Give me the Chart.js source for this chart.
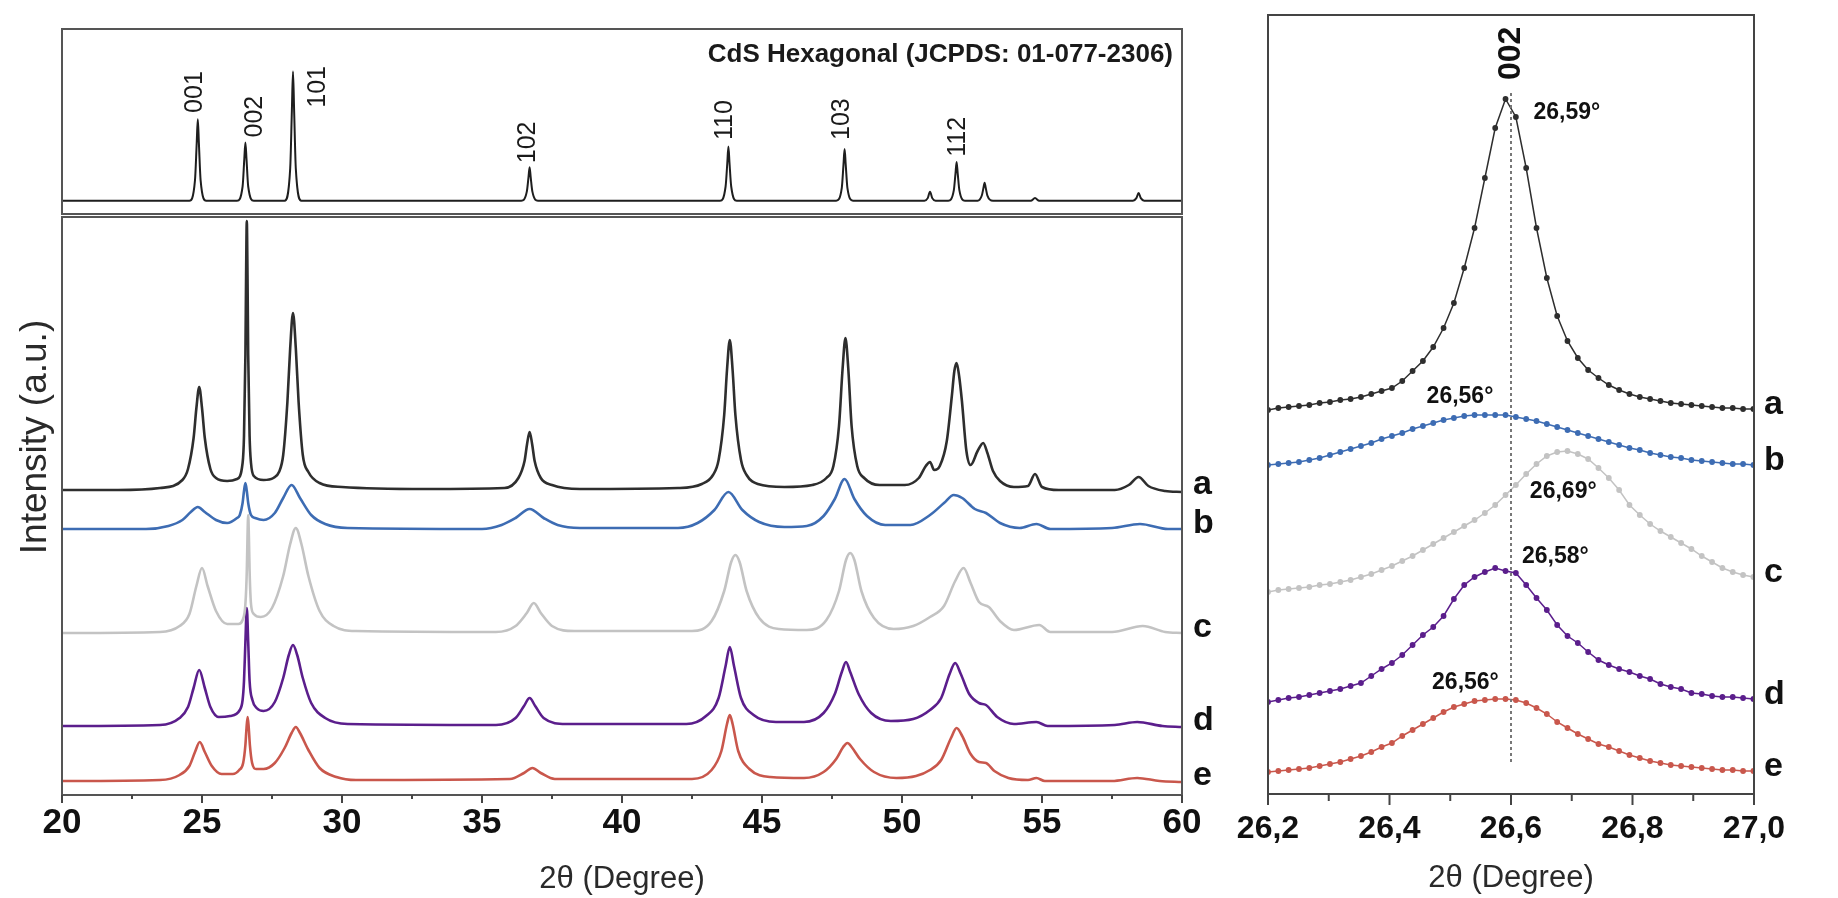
<!DOCTYPE html>
<html>
<head>
<meta charset="utf-8">
<script src="https://cdn.jsdelivr.net/npm/chart.js@4.4.1/dist/chart.umd.min.js"></script>
<style>
  body { margin: 0; background: #fff; }
  #wrap { position: relative; width: 1838px; height: 898px; background: #fff; }
  #wrap canvas { position: absolute; left: 0; top: 0; }
</style>
</head>
<body>
<div id="wrap">
  <canvas id="refChart" width="1838" height="898"></canvas>
  <canvas id="mainChart" width="1838" height="898"></canvas>
  <canvas id="zoomChart" width="1838" height="898"></canvas>
</div>
<script>
// ---- data ----

// reference pattern CdS hexagonal, JCPDS 01-077-2306 (101 = 100)
const refPattern = [
  [20, 0], [24.55, 0], [24.75, 16], [24.81, 44], [24.85, 63], [24.89, 44], [24.95, 16], [25.15, 0],
  [26.25, 0], [26.45, 11], [26.51, 32], [26.55, 45], [26.59, 32], [26.65, 11], [26.85, 0],
  [27.95, 0], [28.15, 25], [28.21, 70], [28.25, 100], [28.29, 70], [28.35, 25], [28.55, 0],
  [36.4, 0], [36.6, 7], [36.66, 18], [36.7, 26], [36.74, 18], [36.8, 7], [37.0, 0],
  [43.5, 0], [43.7, 11], [43.76, 29], [43.8, 42], [43.84, 29], [43.9, 11], [44.1, 0],
  [47.65, 0], [47.85, 10], [47.91, 28], [47.95, 40], [47.99, 28], [48.05, 10], [48.25, 0],
  [50.8, 0], [50.92, 2], [51.0, 7], [51.08, 2], [51.2, 0],
  [51.65, 0], [51.85, 8], [51.91, 21], [51.95, 30], [51.99, 21], [52.05, 8], [52.25, 0],
  [52.7, 0], [52.85, 4], [52.91, 10], [52.95, 14], [52.99, 10], [53.05, 4], [53.25, 0],
  [54.6, 0], [54.75, 2], [54.9, 0],
  [58.25, 0], [58.37, 2], [58.45, 6], [58.53, 2], [58.65, 0], [60, 0]
];
const hklNames = ['001', '002', '101', '102', '110', '103', '112'];
const hklX = [24.75, 26.9, 29.15, 36.65, 43.7, 47.86, 52.0];
const hklY = [68, 49, 72, 29, 47, 47, 34];

// stacked samples (arbitrary units, offsets included)
const sampleNames = ['a', 'b', 'c', 'd', 'e'];
const curveA = [
  [20, 306], [22, 306], [23.5, 308], [24.3, 316], [24.5, 327], [24.7, 358], [24.8, 388], [24.9, 409], [25.0, 388],
  [25.1, 358], [25.3, 327], [25.5, 318], [25.9, 315], [26.25, 317], [26.45, 333], [26.5, 360], [26.55, 441],
  [26.575, 521], [26.6, 575], [26.625, 521], [26.65, 441], [26.7, 360], [26.75, 333], [26.85, 320], [27.2, 316],
  [27.55, 318], [27.75, 324], [27.9, 341], [28.05, 394], [28.15, 448], [28.25, 483], [28.35, 448], [28.45, 394],
  [28.6, 341], [28.8, 324], [29.2, 313], [30, 309], [33, 307], [35.8, 308], [36.3, 318], [36.52, 335], [36.61, 352],
  [36.7, 364], [36.79, 352], [36.88, 335], [37.1, 318], [37.5, 311], [38.5, 307], [42, 308], [42.85, 312],
  [43.25, 321], [43.45, 336], [43.65, 381], [43.75, 426], [43.85, 456], [43.95, 426], [44.05, 381], [44.25, 336],
  [44.45, 321], [44.85, 312], [45.8, 309], [46.8, 311], [47.3, 318], [47.55, 330], [47.75, 370], [47.88, 428],
  [47.98, 458], [48.08, 428], [48.2, 370], [48.4, 330], [48.65, 318], [49.2, 311], [50.1, 311], [50.6, 318],
  [50.85, 330], [51.0, 334], [51.15, 326], [51.35, 330], [51.6, 355], [51.78, 400], [51.87, 425], [51.95, 433],
  [52.04, 420], [52.14, 395], [52.3, 345], [52.45, 331], [52.7, 345], [52.9, 353], [53.05, 343], [53.25, 325],
  [53.5, 315], [54.0, 309], [54.5, 310], [54.75, 322], [55.0, 309], [55.6, 306], [57.6, 306], [58.1, 311],
  [58.45, 319], [58.8, 310], [59.4, 305], [60, 304]
];
const curveB = [
  [20, 267], [23, 267], [23.8, 270], [24.3, 276], [24.6, 284], [24.85, 289], [25.1, 284], [25.5, 276], [25.9, 273],
  [26.25, 278], [26.35, 281], [26.45, 293], [26.5, 305], [26.55, 313], [26.6, 305], [26.65, 293], [26.75, 281],
  [26.9, 278], [27.2, 276], [27.6, 283], [27.9, 298], [28.2, 311], [28.5, 298], [28.9, 281], [29.4, 272],
  [30.2, 268], [35, 267], [35.7, 271], [36.2, 278], [36.7, 287], [37.2, 278], [37.7, 271], [38.5, 268], [42, 268],
  [42.7, 273], [43.3, 286], [43.8, 304], [44.3, 286], [44.9, 274], [45.8, 269], [46.6, 270], [47.2, 280],
  [47.6, 297], [47.95, 317], [48.3, 297], [48.75, 280], [49.4, 271], [50.3, 271], [51.0, 281], [51.5, 293],
  [51.85, 301], [52.15, 298], [52.6, 287], [53.0, 283], [53.5, 273], [54.2, 268], [54.8, 272], [55.3, 267],
  [57.5, 268], [58.5, 272], [59.5, 267], [60, 267]
];
const curveC = [
  [20, 163], [23.5, 164], [24.2, 170], [24.55, 182], [24.8, 210], [25.0, 228], [25.2, 210], [25.5, 185], [25.9, 172],
  [26.3, 172], [26.45, 176], [26.55, 192], [26.6, 225], [26.625, 259], [26.65, 281], [26.675, 259], [26.7, 225],
  [26.75, 192], [26.85, 182], [27.1, 179], [27.5, 188], [27.9, 220], [28.15, 252], [28.35, 268], [28.55, 252],
  [28.8, 220], [29.2, 185], [29.7, 170], [30.5, 165], [35.5, 164], [36.2, 170], [36.6, 183], [36.85, 193],
  [37.1, 183], [37.5, 170], [38.3, 165], [42.5, 165], [43.2, 175], [43.65, 205], [43.9, 234], [44.05, 241],
  [44.2, 234], [44.45, 205], [44.9, 178], [45.6, 167], [46.6, 166], [47.3, 176], [47.75, 205], [48.0, 236],
  [48.15, 243], [48.3, 236], [48.55, 205], [49.0, 178], [49.7, 167], [50.4, 170], [51.0, 179], [51.5, 190],
  [51.9, 215], [52.2, 228], [52.45, 213], [52.75, 194], [53.1, 189], [53.5, 175], [54.0, 166], [54.9, 171],
  [55.3, 164], [57.5, 164], [58.6, 170], [59.4, 164], [60, 163]
];
const curveD = [
  [20, 70], [23.5, 71], [24.2, 78], [24.5, 89], [24.7, 108], [24.9, 126], [25.1, 108], [25.3, 89], [25.6, 79],
  [26.0, 80], [26.35, 86], [26.45, 96], [26.5, 115], [26.55, 154], [26.6, 188], [26.65, 154], [26.7, 115],
  [26.8, 96], [26.95, 88], [27.2, 85], [27.6, 94], [27.9, 118], [28.1, 141], [28.25, 151], [28.4, 141], [28.6, 118],
  [28.9, 93], [29.4, 78], [30.2, 72], [35.5, 71], [36.2, 78], [36.5, 90], [36.7, 98], [36.9, 90], [37.2, 78],
  [38, 72], [42.3, 72], [43.0, 80], [43.45, 98], [43.7, 130], [43.85, 149], [44.0, 130], [44.25, 98], [44.7, 81],
  [45.5, 74], [46.5, 74], [47.2, 83], [47.6, 102], [47.85, 124], [48.0, 134], [48.15, 124], [48.45, 102],
  [48.9, 83], [49.6, 75], [50.4, 77], [51.0, 86], [51.4, 98], [51.7, 122], [51.9, 133], [52.1, 122], [52.4, 102],
  [52.75, 93], [53.0, 91], [53.4, 79], [54.0, 72], [54.8, 74], [55.2, 70], [57.6, 71], [58.4, 74], [59.3, 70],
  [60, 69]
];
const curveE = [
  [20, 15], [23.5, 16], [24.2, 21], [24.55, 30], [24.75, 44], [24.92, 54], [25.1, 44], [25.35, 30], [25.7, 22],
  [26.1, 22], [26.33, 26], [26.47, 33], [26.55, 51], [26.59, 68], [26.63, 79], [26.67, 68], [26.71, 51],
  [26.79, 33], [26.93, 27], [27.2, 27], [27.6, 33], [27.95, 48], [28.2, 63], [28.35, 69], [28.5, 63], [28.8, 46],
  [29.2, 28], [29.8, 19], [30.5, 16], [36.0, 17], [36.5, 23], [36.8, 28], [37.1, 23], [37.6, 17], [42.5, 17],
  [43.2, 26], [43.55, 45], [43.75, 72], [43.85, 81], [43.95, 72], [44.15, 45], [44.55, 27], [45.3, 19], [46.5, 18],
  [47.2, 24], [47.65, 37], [47.9, 49], [48.05, 53], [48.2, 49], [48.5, 37], [49.0, 24], [49.8, 18], [50.5, 20],
  [51.0, 26], [51.4, 36], [51.75, 58], [51.95, 68], [52.15, 60], [52.45, 42], [52.75, 34], [53.0, 33], [53.3, 25],
  [53.8, 18], [54.5, 16], [54.8, 18], [55.1, 15], [57.5, 15], [58.4, 18], [59.2, 15], [60, 14]
];
const baselines = [306, 267, 163, 70, 15];

// 002 close-up, 26.2 - 27.0
const rightX = [
  26.200, 26.217, 26.234, 26.251, 26.268, 26.285, 26.302, 26.319, 26.336, 26.353, 26.370, 26.387,
  26.404, 26.421, 26.438, 26.455, 26.472, 26.489, 26.506, 26.523, 26.540, 26.557, 26.574, 26.591,
  26.608, 26.625, 26.642, 26.659, 26.676, 26.693, 26.710, 26.727, 26.744, 26.761, 26.778, 26.795,
  26.812, 26.829, 26.846, 26.863, 26.880, 26.897, 26.914, 26.931, 26.948, 26.965, 26.982, 26.999
];
const rightA = [
  383, 385, 386, 387, 388, 390, 391, 393, 394, 396, 399, 402, 405, 412, 422, 432, 446, 465, 490, 525, 565, 615, 665, 694,
  676, 625, 565, 515, 477, 452, 435, 423, 415, 408, 403, 399, 396, 394, 392, 390, 389, 388, 387, 386, 385, 385, 384, 384
];
const rightB = [
  328, 329, 330, 331, 333, 335, 338, 341, 344, 347, 350, 354, 357, 360, 364, 367, 370, 373, 375, 377, 378, 378, 378, 378,
  376, 374, 372, 369, 366, 363, 360, 357, 354, 351, 348, 345, 343, 340, 338, 336, 335, 333, 332, 331, 330, 329, 329, 328
];
const rightC = [
  201, 203, 204, 205, 206, 208, 209, 211, 213, 216, 219, 223, 227, 232, 237, 243, 249, 255, 261, 267, 273, 280, 288, 298,
  308, 319, 329, 337, 341, 342, 339, 334, 325, 315, 303, 288, 278, 269, 262, 256, 250, 244, 237, 231, 225, 221, 218, 216
];
const rightD = [
  91, 93, 95, 96, 98, 100, 102, 104, 107, 110, 117, 124, 130, 138, 148, 158, 166, 177, 194, 208, 216, 221, 225, 222,
  220, 208, 195, 183, 168, 157, 150, 141, 133, 128, 124, 121, 117, 114, 109, 106, 104, 100, 99, 97, 96, 96, 95, 94
];
const rightE = [
  21, 22, 23, 24, 25, 27, 29, 31, 34, 37, 41, 46, 50, 57, 63, 69, 75, 81, 86, 89, 92, 93, 94, 94,
  93, 90, 85, 79, 71, 65, 59, 54, 49, 46, 42, 38, 35, 32, 30, 28, 27, 26, 25, 24, 23, 23, 22, 22
];
const peakNotes = ['26,59\u00b0', '26,56\u00b0', '26,69\u00b0', '26,58\u00b0', '26,56\u00b0'];
const noteX = [26.692, 26.516, 26.686, 26.673, 26.525];
const noteY = [680, 396, 301, 236, 110];
const refLine = [[26.6, 31], [26.6, 703]];

const colors = ['#2e2e2e', '#3d6cb3', '#c3c3c3', '#5b1e8c', '#c9574c'];
const FONT = '"Liberation Sans", Arial, sans-serif';
Chart.defaults.font.family = FONT;
Chart.defaults.color = '#111';

const toXY = arr => arr.map(([x, y]) => ({ x, y }));

function drawFrame(chart, color, width) {
  const { ctx, chartArea: a } = chart;
  ctx.save();
  ctx.strokeStyle = color;
  ctx.lineWidth = width;
  ctx.strokeRect(a.left, a.top, a.right - a.left, a.bottom - a.top);
  ctx.restore();
}

function drawTicks(chart, isMajor, majorLen, minorLen) {
  const { ctx, chartArea: a } = chart;
  const xs = chart.scales.x;
  ctx.save();
  ctx.strokeStyle = '#444';
  ctx.lineWidth = 2;
  xs.ticks.forEach(t => {
    const px = xs.getPixelForValue(t.value);
    ctx.beginPath();
    ctx.moveTo(px, a.bottom);
    ctx.lineTo(px, a.bottom + (isMajor(t.value) ? majorLen : minorLen));
    ctx.stroke();
  });
  ctx.restore();
}

function vText(ctx, text, x, y, font) {
  ctx.save();
  ctx.translate(x, y);
  ctx.rotate(-Math.PI / 2);
  ctx.font = font;
  ctx.textAlign = 'left';
  ctx.textBaseline = 'middle';
  ctx.fillText(text, 0, 0);
  ctx.restore();
}

// ---- top panel: reference pattern ----
new Chart(document.getElementById('refChart'), {
  type: 'line',
  data: {
    datasets: [{
      data: toXY(refPattern),
      borderColor: '#1e1e1e',
      borderWidth: 2,
      pointRadius: 0,
      cubicInterpolationMode: 'monotone'
    }]
  },
  options: {
    responsive: false,
    animation: false,
    events: [],
    layout: { padding: { left: 62, top: 29, right: 656, bottom: 684 } },
    scales: {
      x: { type: 'linear', min: 20, max: 60, display: false },
      y: { min: -10.3, max: 133, display: false }
    },
    plugins: { legend: { display: false }, tooltip: { enabled: false } }
  },
  plugins: [{
    id: 'refDecor',
    afterDraw(chart) {
      const { ctx, chartArea: a, scales: { x, y } } = chart;
      drawFrame(chart, '#555', 2);
      ctx.fillStyle = '#1a1a1a';
      hklNames.forEach((n, i) => {
        vText(ctx, n, x.getPixelForValue(hklX[i]), y.getPixelForValue(hklY[i]), '25px ' + FONT);
      });
      ctx.save();
      ctx.font = 'bold 26px ' + FONT;
      ctx.textAlign = 'right';
      ctx.textBaseline = 'middle';
      ctx.fillText('CdS Hexagonal (JCPDS: 01-077-2306)', a.right - 9, a.top + 26);
      ctx.restore();
    }
  }]
});

// ---- bottom-left panel: samples a-e ----
const sampleCurves = [curveA, curveB, curveC, curveD, curveE];
new Chart(document.getElementById('mainChart'), {
  type: 'line',
  data: {
    datasets: sampleCurves.map((c, i) => ({
      label: sampleNames[i],
      data: toXY(c),
      borderColor: colors[i],
      borderWidth: 2.6,
      pointRadius: 0,
      cubicInterpolationMode: 'monotone'
    }))
  },
  options: {
    responsive: false,
    animation: false,
    events: [],
    layout: { padding: { left: 62, top: 217, right: 656, bottom: 0 } },
    scales: {
      x: {
        type: 'linear', min: 20, max: 60,
        grid: { display: false, drawTicks: false },
        border: { display: false },
        ticks: {
          stepSize: 2.5, padding: 7, maxRotation: 0,
          font: { size: 35, weight: 'bold' }, color: '#111',
          callback: v => (v % 5 === 0 ? v : '')
        },
        title: { display: true, text: '2\u03b8 (Degree)', font: { size: 31 }, color: '#2a2a2a', padding: { top: 0, bottom: 0 } },
        afterFit: s => { s.height = 103; }
      },
      y: { min: 1, max: 579, display: false }
    },
    plugins: { legend: { display: false }, tooltip: { enabled: false } }
  },
  plugins: [{
    id: 'mainDecor',
    afterDraw(chart) {
      const { ctx, chartArea: a, scales: { y } } = chart;
      drawFrame(chart, '#555', 2);
      drawTicks(chart, v => v % 5 === 0, 8, 4);
      ctx.save();
      ctx.font = 'bold 34px ' + FONT;
      ctx.textAlign = 'left';
      ctx.textBaseline = 'middle';
      ctx.fillStyle = '#111';
      sampleNames.forEach((n, i) => ctx.fillText(n, a.right + 11, y.getPixelForValue(baselines[i]) - 5));
      ctx.restore();
      ctx.save();
      ctx.translate(36, 437);
      ctx.rotate(-Math.PI / 2);
      ctx.font = '37px ' + FONT;
      ctx.textAlign = 'center';
      ctx.textBaseline = 'middle';
      ctx.fillStyle = '#2a2a2a';
      ctx.fillText('Intensity (a.u.)', 0, 0);
      ctx.restore();
    }
  }]
});

// ---- right panel: 002 close-up ----
const rightCurves = [rightA, rightB, rightC, rightD, rightE];
const rightSets = rightCurves.map((c, i) => ({
  label: sampleNames[i],
  data: rightX.map((x, k) => ({ x, y: c[k] })),
  borderColor: colors[i],
  backgroundColor: colors[i],
  borderWidth: 1.5,
  pointRadius: 2.9,
  pointBorderWidth: 0,
  tension: 0
}));
rightSets.unshift({
  data: toXY(refLine),
  borderColor: '#777',
  borderWidth: 2,
  borderDash: [3, 3],
  pointRadius: 0
});

new Chart(document.getElementById('zoomChart'), {
  type: 'line',
  data: { datasets: rightSets },
  options: {
    responsive: false,
    animation: false,
    events: [],
    layout: { padding: { left: 1268, top: 15, right: 84, bottom: 0 } },
    scales: {
      x: {
        type: 'linear', min: 26.2, max: 27.0,
        grid: { display: false, drawTicks: false },
        border: { display: false },
        ticks: {
          stepSize: 0.1, padding: 16, maxRotation: 0, autoSkip: false,
          font: { size: 32, weight: 'bold' }, color: '#111',
          callback: v => (Math.round(v * 10) % 2 === 0 ? v.toFixed(1).replace('.', ',') : '')
        },
        title: { display: true, text: '2\u03b8 (Degree)', font: { size: 31 }, color: '#2a2a2a', padding: { top: 0, bottom: 1 } },
        afterFit: s => { s.height = 104; }
      },
      y: { min: -1, max: 778, display: false }
    },
    plugins: { legend: { display: false }, tooltip: { enabled: false } }
  },
  plugins: [{
    id: 'zoomDecor',
    afterDraw(chart) {
      const { ctx, chartArea: a, scales: { x, y } } = chart;
      drawFrame(chart, '#444', 2);
      drawTicks(chart, v => Math.round(v * 10) % 2 === 0, 11, 7);
      ctx.fillStyle = '#111';
      vText(ctx, '002', x.getPixelForValue(26.6), y.getPixelForValue(713), 'bold 32px ' + FONT);
      ctx.save();
      ctx.font = 'bold 23px ' + FONT;
      ctx.textAlign = 'center';
      ctx.textBaseline = 'middle';
      peakNotes.forEach((t, i) => ctx.fillText(t, x.getPixelForValue(noteX[i]), y.getPixelForValue(noteY[i])));
      ctx.font = 'bold 34px ' + FONT;
      ctx.textAlign = 'left';
      rightCurves.forEach((c, i) => ctx.fillText(sampleNames[i], a.right + 10, y.getPixelForValue(c[c.length - 1]) - 4));
      ctx.restore();
    }
  }]
});
</script>
</body>
</html>
